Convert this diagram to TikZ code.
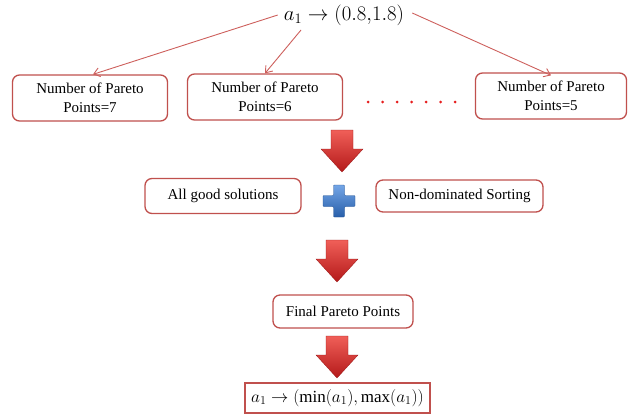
\documentclass[tikz,border=0pt]{standalone}
\usepackage{fontspec}
\setmainfont{Liberation Serif}
\usetikzlibrary{arrows.meta}
\definecolor{boxred}{RGB}{192,80,77}
\definecolor{linered}{RGB}{205,95,92}
\definecolor{dotred}{RGB}{230,30,30}
\definecolor{arrlight}{RGB}{240,95,88}
\definecolor{arrdark}{RGB}{180,25,25}
\definecolor{pluslight}{RGB}{115,165,230}
\definecolor{plusdark}{RGB}{40,95,170}
\begin{document}
\begin{tikzpicture}[x=1pt,y=-1pt,
  pbox/.style={draw=boxred, line width=1.3pt, rounded corners=7pt, align=center,
    inner sep=0pt, font=\fontsize{15}{19}\selectfont, fill=white},
  conn/.style={draw=linered, line width=0.9pt, -{Straight Barb[length=6pt,width=9pt]}},
  bigarrow/.pic={
    \shade[top color=arrlight, bottom color=arrdark, draw=arrdark!85!black, line width=0.3pt]
      (-11,0) -- (11,0) -- (11,19) -- (21,19) -- (0,42) -- (-21,19) -- (-11,19) -- cycle;
  },
  plussign/.pic={
    \shade[top color=pluslight, bottom color=plusdark, draw=plusdark!85!black, line width=0.3pt, rounded corners=0.8pt]
      (-5.5,-16) -- (5.5,-16) -- (5.5,-5.5) -- (16,-5.5) -- (16,5.5) -- (5.5,5.5) -- (5.5,16)
      -- (-5.5,16) -- (-5.5,5.5) -- (-16,5.5) -- (-16,-5.5) -- (-5.5,-5.5) -- cycle;
  }
]
\useasboundingbox (0,0) rectangle (636,416);

\node[font=\fontsize{19.5}{22}\selectfont, inner sep=2pt] (top) at (344,15) {$a_1 \rightarrow (0.8{,}1.8)$};

\node[pbox, minimum width=155pt, minimum height=46pt] (b1) at (90,98) {Number of Pareto\\Points=7};
\node[pbox, minimum width=155pt, minimum height=46pt] (b2) at (265,97) {Number of Pareto\\Points=6};
\node[pbox, minimum width=151pt, minimum height=46pt] (b3) at (551,96) {Number of Pareto\\Points=5};

\foreach \i in {0,...,6} \fill[dotred] (368+14.5*\i,102) circle (1.5pt);

\coordinate (m) at (301,30);
\draw[conn] ([xshift=-4pt]top.west) -- ([xshift=3pt]b1.north);
\draw[conn] (m) -- (b2.north);
\draw[conn] ([shift={(6,-2)}]top.east) -- ([yshift=-3pt]b3.north);

\node[pbox, minimum width=156pt, minimum height=35pt] (good) at (223,196) {All good solutions};
\node[pbox, minimum width=167pt, minimum height=32pt] (nds) at (459.5,196) {Non-dominated Sorting};
\node[pbox, minimum width=140pt, minimum height=33pt] (fin) at (343,311.5) {Final Pareto Points};
\node[draw=boxred, line width=1.3pt, minimum width=185pt, minimum height=30pt, inner sep=0pt,
  font=\fontsize{17}{20}\selectfont] (res) at (337.5,398) {$a_1 \rightarrow (\min(a_1),\max(a_1))$};

\pic at (342,130) {bigarrow};
\pic at (337,240) {bigarrow};
\pic at (337,336) {bigarrow};
\pic at (339,201) {plussign};
\end{tikzpicture}
\end{document}
